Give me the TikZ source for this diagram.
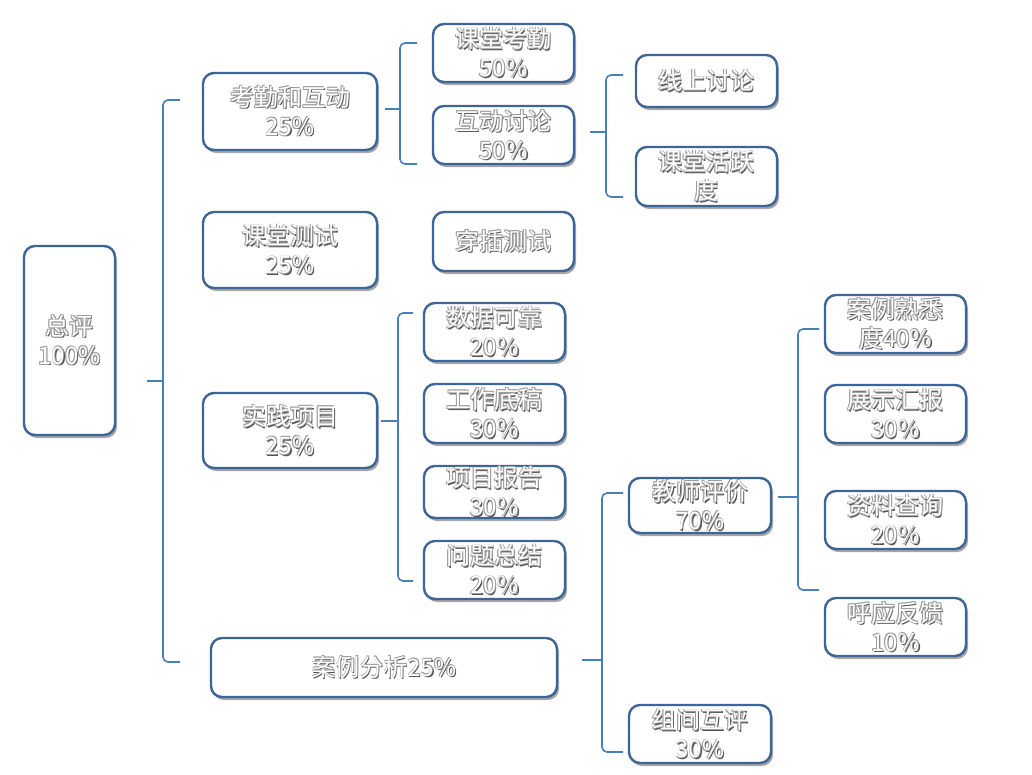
\documentclass[tikz,border=0pt]{standalone}
\usepackage{fontspec}
\setmainfont{Noto Sans CJK SC}
\usetikzlibrary{shadows,calc}
\definecolor{boxblue}{HTML}{3E6597}
\definecolor{lineblue}{HTML}{4A7EBB}
\definecolor{shdark}{HTML}{555555}
\definecolor{shlight}{HTML}{9C9C9C}
\newcommand\sht[1]{\hbox{\rlap{\kern1.3pt\raisebox{-1.5pt}{\color{shdark}#1}}\rlap{\kern-0.6pt\raisebox{0.6pt}{\color{shlight}#1}}\rlap{\kern0.6pt\raisebox{0.6pt}{\color{shlight}#1}}\rlap{\kern-0.6pt\raisebox{-0.6pt}{\color{shlight}#1}}{\color{white}#1}}}
\tikzset{
  box/.style={draw=boxblue, line width=2.4pt, rounded corners=11pt, fill=white,
    align=center, inner sep=0pt, font=\fontsize{24}{29}\selectfont,
    drop shadow={shadow xshift=2pt, shadow yshift=-3pt, opacity=0.35, fill=black}},
  brace/.style={draw=lineblue, line width=1.6pt, rounded corners=5pt},
}
\begin{document}
\begin{tikzpicture}[x=1pt,y=-1pt]
\useasboundingbox[fill=white] (0,0) rectangle (1032,774);
% level 0
\node[box, minimum width=91pt, minimum height=189pt] (zp) at (69.5,340.5) {\sht{总评}\\\sht{100\%}};
% level 1
\node[box, minimum width=174pt, minimum height=77pt] (kq) at (290,111.5) {\sht{考勤和互动}\\\sht{25\%}};
\node[box, minimum width=174pt, minimum height=76pt] (cs) at (290,250) {\sht{课堂测试}\\\sht{25\%}};
\node[box, minimum width=174pt, minimum height=75pt] (sj) at (290,430.5) {\sht{实践项目}\\\sht{25\%}};
\node[box, minimum width=346pt, minimum height=59pt] (al) at (384,667.5) {\sht{案例分析25\%}};
% level 2
\node[box, minimum width=141pt, minimum height=58pt] (ktkq) at (503.5,53) {\sht{课堂考勤}\\\sht{50\%}};
\node[box, minimum width=141pt, minimum height=58pt] (hdtl) at (503.5,135) {\sht{互动讨论}\\\sht{50\%}};
\node[box, minimum width=141pt, minimum height=59pt] (ccs) at (503.5,241.5) {\sht{穿插测试}};
\node[box, minimum width=141pt, minimum height=58pt] (sjkk) at (494.5,332) {\sht{数据可靠}\\\sht{20\%}};
\node[box, minimum width=141pt, minimum height=59pt] (gzdg) at (494.5,413.5) {\sht{工作底稿}\\\sht{30\%}};
\node[box, minimum width=141pt, minimum height=52pt] (xmbg) at (494.5,492) {\sht{项目报告}\\\sht{30\%}};
\node[box, minimum width=141pt, minimum height=58pt] (wtzj) at (494.5,570) {\sht{问题总结}\\\sht{20\%}};
\node[box, minimum width=142pt, minimum height=55pt] (jspj) at (700,505.5) {\sht{教师评价}\\\sht{70\%}};
\node[box, minimum width=142pt, minimum height=58pt] (zjhp) at (700,734) {\sht{组间互评}\\\sht{30\%}};
% level 3
\node[box, minimum width=141pt, minimum height=52pt] (xstl) at (706.5,81) {\sht{线上讨论}};
\node[box, minimum width=141pt, minimum height=59pt] (kthy) at (706.5,176.5) {\sht{课堂活跃}\\\sht{度}};
\node[box, minimum width=141pt, minimum height=58pt] (alsx) at (895.5,324) {\sht{案例熟悉}\\\sht{度40\%}};
\node[box, minimum width=141pt, minimum height=58pt] (zshb) at (895.5,414) {\sht{展示汇报}\\\sht{30\%}};
\node[box, minimum width=141pt, minimum height=58pt] (zlcx) at (895.5,520) {\sht{资料查询}\\\sht{20\%}};
\node[box, minimum width=141pt, minimum height=58pt] (hyfk) at (895.5,627) {\sht{呼应反馈}\\\sht{10\%}};
% brace coordinates
\coordinate (b0t) at (180,100); \coordinate (b0m) at (163,381); \coordinate (b0b) at (180,662); \coordinate (b0p) at (147,381);
\coordinate (b1t) at (417,43); \coordinate (b1m) at (400,109); \coordinate (b1b) at (417,164); \coordinate (b1p) at (385,109);
\coordinate (b2t) at (623,75); \coordinate (b2m) at (606,132); \coordinate (b2b) at (623,197); \coordinate (b2p) at (590,132);
\coordinate (b3t) at (413,313); \coordinate (b3m) at (398,421); \coordinate (b3b) at (413,581); \coordinate (b3p) at (381,421);
\coordinate (b4t) at (623,493); \coordinate (b4m) at (602,660); \coordinate (b4b) at (623,752); \coordinate (b4p) at (582,660);
\coordinate (b5t) at (819,329); \coordinate (b5m) at (798,497); \coordinate (b5b) at (819,590); \coordinate (b5p) at (778,497);
\foreach \i in {0,...,5}{
  \draw[brace] (b\i t) -| (b\i m) |- (b\i b);
  \draw[brace] (b\i p) -- (b\i m);
}
\end{tikzpicture}
\end{document}
